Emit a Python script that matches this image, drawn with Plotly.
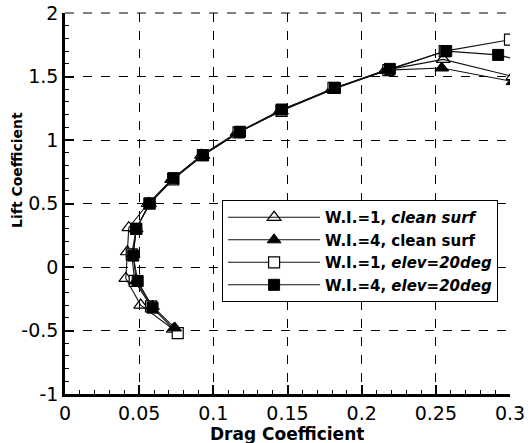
import plotly.graph_objects as go

# ---- data ----
wi1_clean_cd = [0.073, 0.051, 0.041, 0.042, 0.043, 0.056, 0.072, 0.092, 0.116, 0.145, 0.180, 0.216, 0.255, 0.302]
wi1_clean_cl = [-0.49, -0.30, -0.09, 0.12, 0.31, 0.50, 0.69, 0.88, 1.06, 1.23, 1.40, 1.55, 1.635, 1.50]

wi4_clean_cd = [0.074, 0.059, 0.048, 0.046, 0.048, 0.057, 0.072, 0.093, 0.117, 0.146, 0.181, 0.217, 0.254, 0.302]
wi4_clean_cl = [-0.48, -0.31, -0.11, 0.10, 0.30, 0.50, 0.69, 0.88, 1.06, 1.23, 1.40, 1.55, 1.567, 1.46]

wi1_elev_cd = [0.076, 0.058, 0.047, 0.045, 0.048, 0.057, 0.073, 0.093, 0.117, 0.146, 0.181, 0.218, 0.256, 0.300]
wi1_elev_cl = [-0.52, -0.31, -0.11, 0.10, 0.30, 0.50, 0.69, 0.88, 1.06, 1.23, 1.41, 1.55, 1.70, 1.79]

wi4_elev_cd = [0.059, 0.049, 0.046, 0.048, 0.057, 0.073, 0.093, 0.118, 0.146, 0.182, 0.219, 0.257, 0.292, 0.306]
wi4_elev_cl = [-0.32, -0.11, 0.09, 0.30, 0.50, 0.70, 0.88, 1.065, 1.24, 1.41, 1.56, 1.70, 1.67, 1.63]

x_ticks = [0, 0.05, 0.1, 0.15, 0.2, 0.25, 0.3]
x_labels = ["0", "0.05", "0.1", "0.15", "0.2", "0.25", "0.3"]
y_ticks = [-1, -0.5, 0, 0.5, 1, 1.5, 2]
y_labels = ["-1", "-0.5", "0", "0.5", "1", "1.5", "2"]

x_title = "Drag Coefficient"
y_title = "Lift Coefficient"

names = [
    "W.I.=1, <i>clean surf</i>",
    "W.I.=4, clean surf",
    "W.I.=1, <i>elev=20deg</i>",
    "W.I.=4, <i>elev=20deg</i>",
]

LINE = dict(color="#111111", width=1.1)

fig = go.Figure()
# drawing order chosen so overlaps look like the reference; legend order via legendrank
fig.add_trace(go.Scatter(x=wi1_clean_cd, y=wi1_clean_cl, mode="lines+markers", name=names[0],
                         legendrank=1, line=LINE,
                         marker=dict(symbol="triangle-up-open", size=12, color="black",
                                     line=dict(width=1.2, color="black"))))
fig.add_trace(go.Scatter(x=wi1_elev_cd, y=wi1_elev_cl, mode="lines+markers", name=names[2],
                         legendrank=3, line=LINE,
                         marker=dict(symbol="square", size=11, color="white",
                                     line=dict(width=1.2, color="black"))))
fig.add_trace(go.Scatter(x=wi4_elev_cd, y=wi4_elev_cl, mode="lines+markers", name=names[3],
                         legendrank=4, line=LINE,
                         marker=dict(symbol="square", size=11, color="black",
                                     line=dict(width=1, color="black"))))
fig.add_trace(go.Scatter(x=wi4_clean_cd, y=wi4_clean_cl, mode="lines+markers", name=names[1],
                         legendrank=2, line=LINE,
                         marker=dict(symbol="triangle-up", size=12, color="black",
                                     line=dict(width=1, color="black"))))

fig.update_layout(
    width=532, height=443,
    margin=dict(l=65, r=22, t=13, b=49, autoexpand=False),
    paper_bgcolor="white", plot_bgcolor="white",
    font=dict(family="DejaVu Sans", color="black"),
    showlegend=True,
    legend=dict(
        x=0.353, y=0.509, xanchor="left", yanchor="top",
        bgcolor="white", bordercolor="black", borderwidth=1,
        font=dict(family="DejaVu Sans", size=15, color="black", weight="bold"),
        itemwidth=92, tracegroupgap=0,
    ),
    annotations=[
        dict(text="<b>" + x_title + "</b>", xref="paper", yref="paper", x=0.499, y=-0.104,
             xanchor="center", yanchor="middle", showarrow=False,
             font=dict(size=17, family="DejaVu Sans", color="black")),
        dict(text="<b>" + y_title + "</b>", xref="paper", yref="paper", x=-0.108, y=0.588,
             xanchor="center", yanchor="middle", showarrow=False, textangle=-90,
             font=dict(size=14, family="DejaVu Sans", color="black")),
    ],
    # dashed frame line along the top edge (grid line at the range end)
    shapes=[dict(type="line", xref="paper", yref="paper", x0=0, x1=1, y0=1, y1=1,
                 line=dict(color="black", width=1, dash="dash"), layer="above")],
)

fig.update_xaxes(
    range=[0, 0.3], tickvals=x_ticks, ticktext=x_labels, automargin=False,
    tickfont=dict(size=19, family="DejaVu Sans"),
    showline=True, linecolor="black", linewidth=2.5, mirror=False,
    ticks="inside", ticklen=9, tickwidth=2, tickcolor="black",
    minor=dict(dtick=0.01, ticks="inside", ticklen=4, tickwidth=1, tickcolor="black", showgrid=False),
    showgrid=True, gridcolor="black", gridwidth=1, griddash="dash",
    zeroline=False,
)
fig.update_yaxes(
    range=[-1, 2], tickvals=y_ticks, ticktext=y_labels, automargin=False,
    tickfont=dict(size=19, family="DejaVu Sans"),
    showline=True, linecolor="black", linewidth=2.5, mirror=False,
    ticks="inside", ticklen=9, tickwidth=2, tickcolor="black",
    minor=dict(dtick=0.1, ticks="inside", ticklen=4, tickwidth=1, tickcolor="black", showgrid=False),
    showgrid=True, gridcolor="black", gridwidth=1, griddash="dash",
    zeroline=False,
)

# remove the default 8px page margin so the figure fills the window exactly
fig.write_html("out.html", config={"displayModeBar": False},
               post_script="document.body.style.margin='0px';document.body.style.overflow='hidden';")
